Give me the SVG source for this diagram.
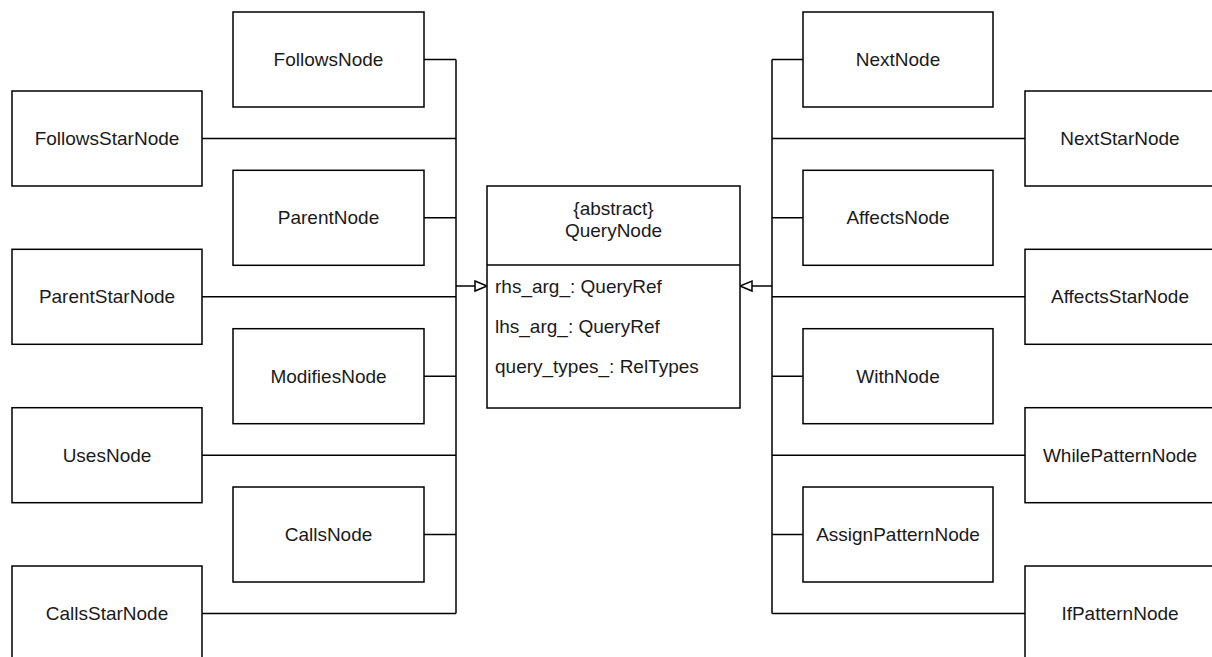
<svg xmlns="http://www.w3.org/2000/svg" width="1212" height="657" viewBox="0 0 1212 657">
  <style>
    .box { fill: #ffffff; stroke: #000000; stroke-width: 1.5; }
    .lbl { font-family: "Liberation Sans", Arial, sans-serif; font-size: 19px; fill: #1a1a1a; text-anchor: middle; dominant-baseline: central; }
    .attr { font-family: "Liberation Sans", Arial, sans-serif; font-size: 19px; fill: #1a1a1a; }
    .wire { fill: none; stroke: #000000; stroke-width: 1.5; }
  </style>
  <defs>
    <marker id="inherit" markerUnits="userSpaceOnUse" markerWidth="16" markerHeight="14" refX="13" refY="7" orient="auto">
      <path d="M1,2 L13,7 L1,12 Z" fill="#ffffff" stroke="#000000" stroke-width="1.5"/>
    </marker>
  </defs>
  <rect width="1212" height="657" fill="#ffffff"/>

  <!-- inheritance connectors -->
  <g id="connectors">
    <!-- left bus -->
    <path class="wire" d="M424,59.5 H456 M202,138.5 H456 M424,217.8 H456 M202,296.8 H456 M424,376.2 H456 M202,455.2 H456 M424,534.5 H456 M202,613.5 H456 M456,59.5 V613.5"/>
    <path class="wire" d="M456,286 H487" marker-end="url(#inherit)"/>
    <!-- right bus -->
    <path class="wire" d="M803,59.5 H772 M1025,138.5 H772 M803,217.8 H772 M1025,296.8 H772 M803,376.2 H772 M1025,455.2 H772 M803,534.5 H772 M1025,613.5 H772 M772,59.5 V613.5"/>
    <path class="wire" d="M772,286 H740" marker-end="url(#inherit)"/>
  </g>

  <!-- abstract base class -->
  <g id="QueryNode">
    <rect class="box" x="487" y="186" width="253" height="222"/>
    <line x1="487" y1="265" x2="740" y2="265" stroke="#000000" stroke-width="1.5"/>
    <text class="lbl" x="613.5" y="208">{abstract}</text>
    <text class="lbl" x="613.5" y="230">QueryNode</text>
    <text class="attr" x="495" y="293">rhs_arg_: QueryRef</text>
    <text class="attr" x="495" y="333">lhs_arg_: QueryRef</text>
    <text class="attr" x="495" y="373">query_types_: RelTypes</text>
  </g>

  <!-- left column, inner -->
  <g id="FollowsNode"><rect class="box" x="233" y="12" width="191" height="95"/><text class="lbl" x="328.5" y="59.5">FollowsNode</text></g>
  <g id="ParentNode"><rect class="box" x="233" y="170.3" width="191" height="95"/><text class="lbl" x="328.5" y="217.8">ParentNode</text></g>
  <g id="ModifiesNode"><rect class="box" x="233" y="328.7" width="191" height="95"/><text class="lbl" x="328.5" y="376.2">ModifiesNode</text></g>
  <g id="CallsNode"><rect class="box" x="233" y="487" width="191" height="95"/><text class="lbl" x="328.5" y="534.5">CallsNode</text></g>

  <!-- left column, outer -->
  <g id="FollowsStarNode"><rect class="box" x="12" y="91" width="190" height="95"/><text class="lbl" x="107" y="138.5">FollowsStarNode</text></g>
  <g id="ParentStarNode"><rect class="box" x="12" y="249.3" width="190" height="95"/><text class="lbl" x="107" y="296.8">ParentStarNode</text></g>
  <g id="UsesNode"><rect class="box" x="12" y="407.7" width="190" height="95"/><text class="lbl" x="107" y="455.2">UsesNode</text></g>
  <g id="CallsStarNode"><rect class="box" x="12" y="566" width="190" height="95"/><text class="lbl" x="107" y="613.5">CallsStarNode</text></g>

  <!-- right column, inner -->
  <g id="NextNode"><rect class="box" x="803" y="12" width="190" height="95"/><text class="lbl" x="898" y="59.5">NextNode</text></g>
  <g id="AffectsNode"><rect class="box" x="803" y="170.3" width="190" height="95"/><text class="lbl" x="898" y="217.8">AffectsNode</text></g>
  <g id="WithNode"><rect class="box" x="803" y="328.7" width="190" height="95"/><text class="lbl" x="898" y="376.2">WithNode</text></g>
  <g id="AssignPatternNode"><rect class="box" x="803" y="487" width="190" height="95"/><text class="lbl" x="898" y="534.5">AssignPatternNode</text></g>

  <!-- right column, outer -->
  <g id="NextStarNode"><rect class="box" x="1025" y="91" width="190" height="95"/><text class="lbl" x="1120" y="138.5">NextStarNode</text></g>
  <g id="AffectsStarNode"><rect class="box" x="1025" y="249.3" width="190" height="95"/><text class="lbl" x="1120" y="296.8">AffectsStarNode</text></g>
  <g id="WhilePatternNode"><rect class="box" x="1025" y="407.7" width="190" height="95"/><text class="lbl" x="1120" y="455.2">WhilePatternNode</text></g>
  <g id="IfPatternNode"><rect class="box" x="1025" y="566" width="190" height="95"/><text class="lbl" x="1120" y="613.5">IfPatternNode</text></g>
</svg>
